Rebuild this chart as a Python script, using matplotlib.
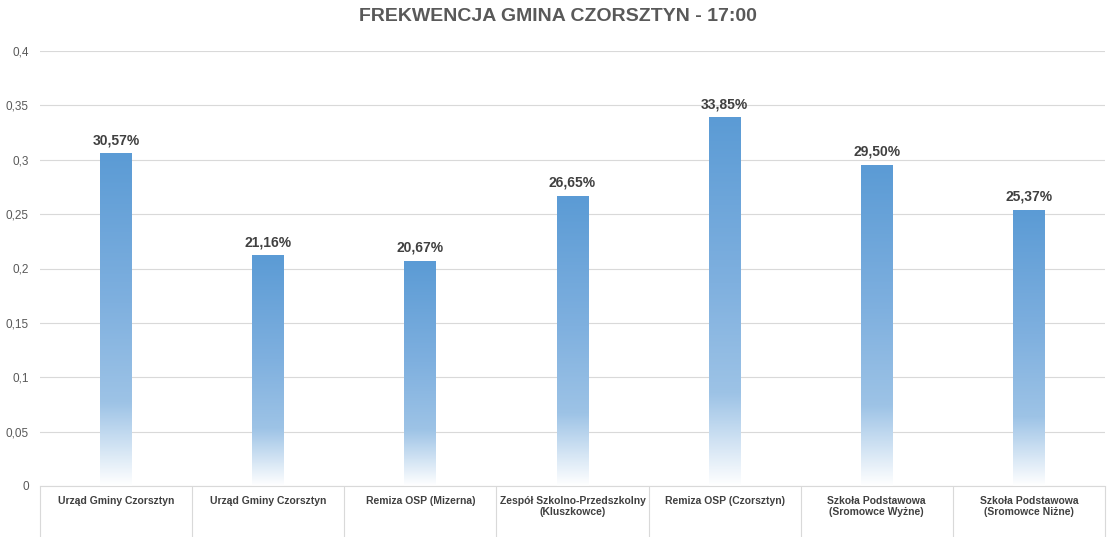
import numpy as np
import matplotlib.pyplot as plt
from matplotlib.colors import LinearSegmentedColormap
from matplotlib.ticker import FixedLocator, FuncFormatter

plt.rcParams['font.family'] = 'Liberation Sans'

categories = ['Urząd Gminy Czorsztyn', 'Urząd Gminy Czorsztyn', 'Remiza OSP (Mizerna)',
              'Zespół Szkolno-Przedszkolny\n(Kluszkowce)', 'Remiza OSP (Czorsztyn)',
              'Szkoła Podstawowa\n(Sromowce Wyżne)', 'Szkoła Podstawowa\n(Sromowce Niżne)']
values = [0.3057, 0.2116, 0.2067, 0.2665, 0.3385, 0.2950, 0.2537]
yticks = [0, 0.05, 0.1, 0.15, 0.2, 0.25, 0.3, 0.35, 0.4]

fig = plt.figure(figsize=(11.16, 5.37), dpi=100)
ax = fig.add_axes([40/1116, 51/537, 1065/1116, 435/537])

cmap = LinearSegmentedColormap.from_list(
    'fade', [(0, '#ffffff'), (0.25, '#9dc3e6'), (0.55, '#7fb0df'), (1, '#5b9bd5')])
grad = np.linspace(0, 1, 256).reshape(-1, 1)
w = 0.21
for i, v in enumerate(values):
    ax.imshow(grad, cmap=cmap, origin='lower', aspect='auto',
              extent=(i - w/2, i + w/2, 0, v), zorder=2)
    ax.text(i, v + 0.006, f'{v*100:.2f}%'.replace('.', ','), ha='center', va='bottom',
            fontsize=10, fontweight='bold', color='#404040')

ax.set_xlim(-0.5, len(values) - 0.5)
ax.set_ylim(0, 0.4)
ax.set_yticks(yticks)
ax.yaxis.set_major_formatter(FuncFormatter(lambda y, _: ('%g' % y).replace('.', ',')))
ax.grid(axis='y', color='#d9d9d9', lw=0.8, zorder=0)
ax.set_xticks(range(len(values)))
ax.set_xticklabels(categories, fontsize=7.5, fontweight='bold', color='#404040')
ax.tick_params(axis='x', length=0, pad=7)
ax.tick_params(axis='y', length=0, labelsize=8.5, labelcolor='#595959', pad=8)
ax.xaxis.set_minor_locator(FixedLocator(np.arange(-0.5, len(values), 1)))
ax.tick_params(axis='x', which='minor', length=50, color='#d9d9d9', width=0.8)
for s in ['top', 'right', 'left']:
    ax.spines[s].set_visible(False)
ax.spines['bottom'].set_color('#d9d9d9')

fig.suptitle('FREKWENCJA GMINA CZORSZTYN - 17:00', y=0.985, fontsize=14,
             fontweight='bold', color='#595959')
fig.savefig('out.png')
